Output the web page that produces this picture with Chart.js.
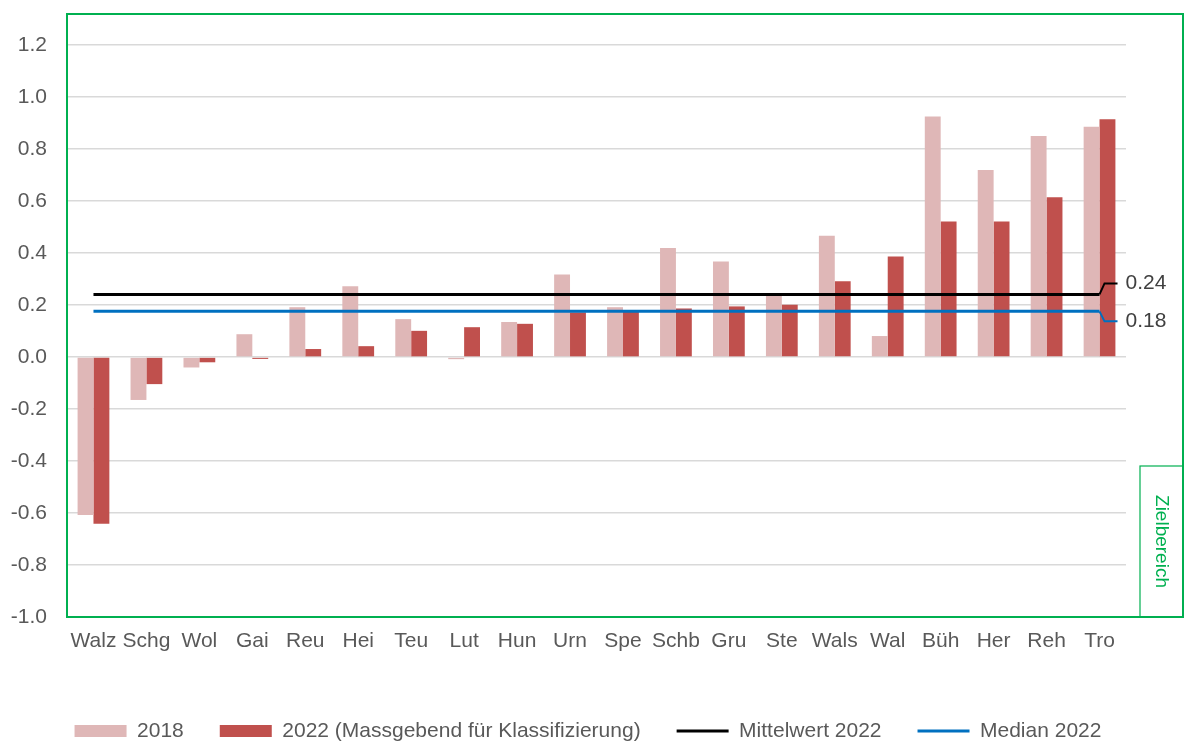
<!DOCTYPE html>
<html>
<head>
<meta charset="utf-8">
<script src="https://cdn.jsdelivr.net/npm/chart.js@4.4.1/dist/chart.umd.min.js"></script>
<style>
  html, body { margin: 0; padding: 0; background: #fff; }
  #wrap { width: 1184px; height: 745px; }
</style>
</head>
<body>
<div id="wrap"><canvas id="chart" width="1184" height="745"></canvas></div>
<script>
// ── Data ─────────────────────────────────────────────────────────────────────

const CATEGORIES = ['Walz', 'Schg', 'Wol', 'Gai', 'Reu', 'Hei', 'Teu', 'Lut', 'Hun', 'Urn',
                    'Spe', 'Schb', 'Gru', 'Ste', 'Wals', 'Wal', 'Büh', 'Her', 'Reh', 'Tro'];

const VALUES_2018 = [-0.608, -0.165, -0.040, 0.088, 0.192, 0.273, 0.146, -0.008, 0.135, 0.318,
                      0.192,  0.420,  0.368, 0.245, 0.467, 0.081, 0.926,  0.720, 0.851, 0.886];

const VALUES_2022 = [-0.641, -0.104, -0.020, -0.007, 0.031, 0.042, 0.101, 0.115, 0.128, 0.172,
                      0.181,  0.187,  0.195,  0.201, 0.292, 0.387, 0.522, 0.522, 0.615, 0.915];

const MEAN_2022   = 0.241;
const MEDIAN_2022 = 0.176;

const Y_TICKS = [1.2, 1.0, 0.8, 0.6, 0.4, 0.2, 0.0, -0.2, -0.4, -0.6, -0.8, -1.0];

const SERIES_LABELS = ['2018', '2022 (Massgebend für Klassifizierung)', 'Mittelwert 2022', 'Median 2022'];
const TARGET_LABEL  = 'Zielbereich';

// ── Styling ──────────────────────────────────────────────────────────────────

const FONT      = '"Liberation Sans", Arial, sans-serif';
const TEXT      = '#595959';
const GREEN     = '#00b050';
const C_2018    = '#dfb7b7';
const C_2022    = '#c0504d';
const C_MEAN    = '#000000';
const C_MEDIAN  = '#0070c0';

Chart.defaults.font.family = FONT;
Chart.defaults.font.size   = 21;
Chart.defaults.color       = TEXT;

// ── Plugins ──────────────────────────────────────────────────────────────────

// leader + value label at the right end of the mean / median lines
const endLabels = {
    id: 'endLabels',
    afterDatasetsDraw(chart) {
        const { ctx } = chart;
        const y = chart.scales.y;
        const xEnd = chart.scales.x.getPixelForValue(CATEGORIES.length - 1);
        const items = [
            { value: MEAN_2022,   color: C_MEAN,   shift: -11 },
            { value: MEDIAN_2022, color: C_MEDIAN, shift: 10 },
        ];
        ctx.save();
        items.forEach(({ value, color, shift }) => {
            const yLine = y.getPixelForValue(value);
            const yText = yLine + shift;
            ctx.strokeStyle = color;
            ctx.lineWidth = 2;
            ctx.beginPath();
            ctx.moveTo(xEnd, yLine);
            ctx.lineTo(xEnd + 5, yText);
            ctx.lineTo(xEnd + 18, yText);
            ctx.stroke();
            ctx.fillStyle = '#404040';
            ctx.font = `21px ${FONT}`;
            ctx.textAlign = 'left';
            ctx.textBaseline = 'middle';
            ctx.fillText(value.toFixed(2), xEnd + 26, yText);
        });
        ctx.restore();
    },
};

// green "Zielbereich" frame round the plot
const targetFrame = {
    id: 'targetFrame',
    afterDraw(chart) {
        const { ctx, chartArea: { left, top, right, bottom } } = chart;
        const outerRight = chart.width - 1;
        ctx.save();
        ctx.strokeStyle = GREEN;
        ctx.lineWidth = 2;
        ctx.strokeRect(left, top, outerRight - left, bottom - top);

        const boxLeft = right + 14;
        const boxTop  = bottom - 151;
        ctx.lineWidth = 1.2;
        ctx.strokeRect(boxLeft, boxTop, outerRight - boxLeft, bottom - boxTop);

        ctx.translate((boxLeft + outerRight) / 2, (boxTop + bottom) / 2);
        ctx.rotate(Math.PI / 2);
        ctx.fillStyle = GREEN;
        ctx.font = `19px ${FONT}`;
        ctx.textAlign = 'center';
        ctx.textBaseline = 'middle';
        ctx.fillText(TARGET_LABEL, 0, 0);
        ctx.restore();
    },
};

// ── Chart ────────────────────────────────────────────────────────────────────

new Chart(document.getElementById('chart').getContext('2d'), {
    type: 'bar',
    data: {
        labels: CATEGORIES,
        datasets: [
            {
                label: SERIES_LABELS[0],
                data: VALUES_2018,
                backgroundColor: C_2018,
                borderWidth: 0,
                pointStyle: 'rect',
                categoryPercentage: 0.6,
                barPercentage: 1.0,
                order: 2,
            },
            {
                label: SERIES_LABELS[1],
                data: VALUES_2022,
                backgroundColor: C_2022,
                borderWidth: 0,
                pointStyle: 'rect',
                categoryPercentage: 0.6,
                barPercentage: 1.0,
                order: 2,
            },
            {
                type: 'line',
                label: SERIES_LABELS[2],
                data: CATEGORIES.map(() => MEAN_2022),
                borderColor: C_MEAN,
                backgroundColor: C_MEAN,
                borderWidth: 3,
                pointRadius: 0,
                pointStyle: 'line',
                fill: false,
                order: 1,
            },
            {
                type: 'line',
                label: SERIES_LABELS[3],
                data: CATEGORIES.map(() => MEDIAN_2022),
                borderColor: C_MEDIAN,
                backgroundColor: C_MEDIAN,
                borderWidth: 3,
                pointRadius: 0,
                pointStyle: 'line',
                fill: false,
                order: 1,
            },
        ],
    },
    options: {
        responsive: false,
        animation: false,
        devicePixelRatio: 1,
        layout: { padding: { top: 14, right: 8, bottom: -6.5, left: 0 } },
        plugins: {
            tooltip: { enabled: false },
            legend: {
                position: 'bottom',
                labels: {
                    usePointStyle: true,
                    pointStyleWidth: 52,
                    boxHeight: 12,
                    padding: 36,
                    color: TEXT,
                    font: { size: 21 },
                    sort: (a, b) => a.datasetIndex - b.datasetIndex,
                },
            },
        },
        scales: {
            x: {
                grid: { display: false, drawTicks: false },
                border: { display: false },
                ticks: { padding: 12, color: TEXT, maxRotation: 0, autoSkip: false },
                afterFit(scale) { scale.height = 67.5; },
            },
            y: {
                min: -1.0,
                max: 1.32,
                grid: {
                    color: '#d9d9d9',
                    lineWidth: 1.5,
                    drawTicks: true,
                    tickLength: 20,
                    tickColor: 'rgba(0,0,0,0)',
                },
                border: { display: false },
                ticks: {
                    padding: 0,
                    color: TEXT,
                    callback: v => v.toFixed(1),
                },
                afterBuildTicks(scale) { scale.ticks = Y_TICKS.map(v => ({ value: v })); },
                afterFit(scale) { scale.width = 67; },
            },
            // empty strip on the right for the end labels and the target box
            side: {
                type: 'linear',
                position: 'right',
                display: true,
                grid: { display: false, drawTicks: false },
                border: { display: false },
                ticks: { display: false },
                afterFit(scale) { scale.width = 50; },
            },
        },
    },
    plugins: [endLabels, targetFrame],
});
</script>
</body>
</html>
